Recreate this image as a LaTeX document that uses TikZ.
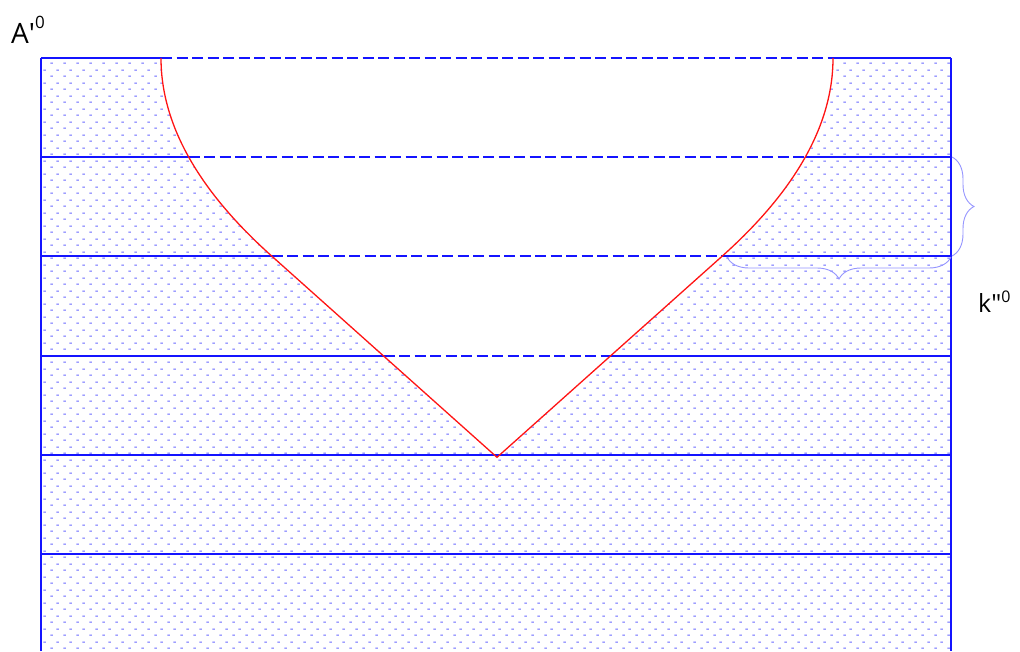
\documentclass[tikz,border=0pt]{standalone}
\usepackage{fontspec}
\newfontfamily\labfont{Open Sans}
\usetikzlibrary{patterns,decorations.pathreplacing}
\definecolor{lineblue}{RGB}{20,20,255}
\definecolor{dashblue}{RGB}{105,105,255}
\definecolor{braceblue}{RGB}{150,150,255}
\definecolor{curvered}{RGB}{255,20,20}
\pgfdeclarepatternformonly{dotdash}{\pgfpointorigin}{\pgfqpoint{12.6pt}{12.54pt}}{\pgfqpoint{12.6pt}{12.54pt}}{%
  \pgfsetlinewidth{1pt}%
  \pgfpathmoveto{\pgfqpoint{0.4pt}{3pt}}\pgfpathlineto{\pgfqpoint{2.9pt}{3pt}}%
  \pgfpathmoveto{\pgfqpoint{6.7pt}{9.27pt}}\pgfpathlineto{\pgfqpoint{9.2pt}{9.27pt}}%
  \pgfusepath{stroke}}
\tikzset{
  band/.style={draw=lineblue, line width=1.6pt, solid},
  gapline/.style={draw=lineblue, line width=1.6pt, dash pattern=on 11pt off 4.5pt},
  curve/.style={draw=curvered, line width=1.3pt},
  bracebl/.style={draw=braceblue, line width=0.9pt, decorate, decoration={brace, amplitude=22pt}},
  lab/.style={inner sep=0pt, anchor=base west, font=\labfont}
}
\begin{document}
\begin{tikzpicture}[x=1pt,y=-1pt]
\useasboundingbox[fill=white] (0,0) rectangle (1020,651);
% frame and levels
\coordinate (TL) at (41,58);
\coordinate (TR) at (951,58);
\coordinate (BL) at (41,651);
\coordinate (BR) at (951,651);
\coordinate (La) at (41,157);  \coordinate (Ra) at (951,157);
\coordinate (Lb) at (41,256);  \coordinate (Rb) at (951,256);
\coordinate (Lc) at (41,356);  \coordinate (Rc) at (951,356);
\coordinate (Ld) at (41,455);  \coordinate (Rd) at (951,455);
\coordinate (Le) at (41,554);  \coordinate (Re) at (951,554);
% crossing points of the curve with the levels
\coordinate (XaL) at (161,58);     \coordinate (XaR) at (833,58);
\coordinate (XbL) at (188.7,157); \coordinate (XbR) at (805.3,157);
\coordinate (XcL) at (271.5,256);  \coordinate (XcR) at (722.5,256);
\coordinate (XdL) at (383.5,356); \coordinate (XdR) at (610.5,356);
\coordinate (V) at (497,457.3);
% hatched field
\fill[pattern=dotdash, pattern color=dashblue] (TL) rectangle (BR);
% white region inside the curve
\fill[white] plot[domain=58:256.4, samples=60, variable=\t] ({161+111.1*((\t-58)/198.4)^2}, \t)
  -- (V)
  -- plot[domain=256.4:58, samples=60, variable=\t] ({833-111.1*((\t-58)/198.4)^2}, \t) -- cycle;
% level lines
\draw[band] (TL) -- (XaL);
\draw[gapline] (XaL) -- (XaR);
\draw[band] (XaR) -- (TR);
\draw[band] (La) -- (XbL);
\draw[gapline] (XbL) -- (XbR);
\draw[band] (XbR) -- (Ra);
\draw[band] (Lb) -- (XcL);
\draw[gapline] (XcL) -- (XcR);
\draw[band] (XcR) -- (Rb);
\draw[band] (Lc) -- (XdL);
\draw[gapline] (XdL) -- (XdR);
\draw[band] (XdR) -- (Rc);
\draw[band] (Ld) -- (Rd);
\draw[band] (Le) -- (Re);
\draw[band] (BL) -- (TL);
\draw[band] (TR) -- (BR);
% red curve
\draw[curve, line join=miter] plot[domain=58:256.4, samples=60, variable=\t] ({161+111.1*((\t-58)/198.4)^2}, \t)
  -- (V)
  -- plot[domain=256.4:58, samples=60, variable=\t] ({833-111.1*((\t-58)/198.4)^2}, \t);
% braces
\coordinate (B1) at (952,157);
\coordinate (B2) at (952,256);
\coordinate (B3) at (951,257);
\coordinate (B4) at (727,257);
\draw[bracebl] (B1) -- (B2);
\draw[bracebl] (B3) -- (B4);
% labels
\node[lab] (A) at (11,43) {\fontsize{28}{32}\selectfont A\textquotesingle\raisebox{15pt}{\fontsize{17}{20}\selectfont 0}};
\node[lab] (K) at (978,312) {\fontsize{25}{29}\selectfont k\textquotedbl\raisebox{9.5pt}{\fontsize{16}{19}\selectfont 0}};
\end{tikzpicture}
\end{document}
